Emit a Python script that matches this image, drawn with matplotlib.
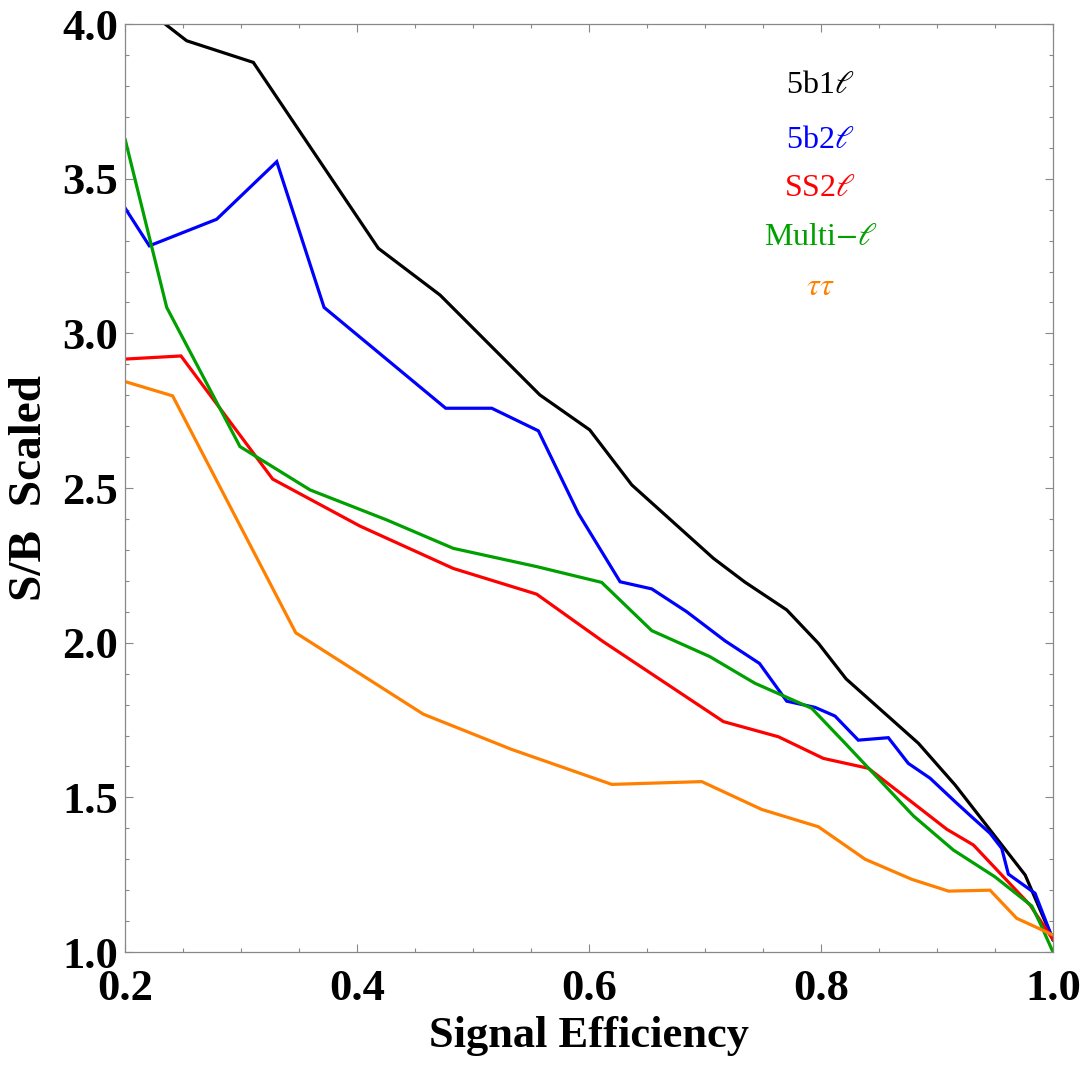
import numpy as np
import matplotlib.pyplot as plt
import matplotlib.transforms as mtrans
from matplotlib.ticker import MultipleLocator, FormatStrFormatter

plt.rcParams['font.family'] = ['Liberation Serif', 'DejaVu Serif']
plt.rcParams['mathtext.fontset'] = 'stix'

# series (signal efficiency, S/B scaled)
x_5b1l = [0.2, 0.2529, 0.3104, 0.4182, 0.4714, 0.5575, 0.6005, 0.6368, 0.7071,
          0.7343, 0.7704, 0.7977, 0.8216, 0.8839, 0.9156, 0.9760, 1.0]
y_5b1l = [4.10, 3.946, 3.876, 3.275, 3.124, 2.801, 2.688, 2.510, 2.273,
          2.196, 2.106, 1.998, 1.883, 1.675, 1.540, 1.249, 1.04]

x_5b2l = [0.2, 0.2207, 0.2788, 0.3306, 0.3714, 0.4763, 0.5160, 0.5562, 0.5907,
          0.6267, 0.6540, 0.6842, 0.7172, 0.7469, 0.7704, 0.7948, 0.8120,
          0.8321, 0.8580, 0.8752, 0.8940, 0.9156, 0.9299, 0.9457, 0.9558,
          0.9615, 0.9845, 1.0]
y_5b2l = [3.404, 3.283, 3.369, 3.555, 3.084, 2.758, 2.758, 2.685, 2.418,
          2.197, 2.174, 2.100, 2.006, 1.933, 1.811, 1.791, 1.763,
          1.685, 1.693, 1.610, 1.562, 1.486, 1.437, 1.384, 1.335,
          1.252, 1.190, 1.04]

x_ss2l = [0.2, 0.2480, 0.3271, 0.4024, 0.4829, 0.5547, 0.6123, 0.7158, 0.7632,
          0.8020, 0.8408, 0.9084, 0.9314, 0.9802, 1.0]
y_ss2l = [2.917, 2.927, 2.529, 2.377, 2.240, 2.157, 2.003, 1.745, 1.696,
          1.626, 1.594, 1.397, 1.346, 1.152, 1.04]

x_multi = [0.2, 0.2357, 0.2989, 0.3593, 0.4254, 0.4829, 0.5548, 0.6108, 0.6540,
           0.7041, 0.7429, 0.7919, 0.8207, 0.8797, 0.9140, 0.9500, 0.9817,
           0.9889, 1.0]
y_multi = [3.625, 3.084, 2.634, 2.494, 2.397, 2.305, 2.246, 2.195, 2.039,
           1.955, 1.869, 1.788, 1.675, 1.440, 1.330, 1.243, 1.149,
           1.093, 1.00]

x_tautau = [0.2, 0.2408, 0.3470, 0.4570, 0.5332, 0.6195, 0.6971, 0.7488, 0.7977,
            0.8380, 0.8783, 0.9099, 0.9457, 0.9687, 0.9845, 1.0]
y_tautau = [2.844, 2.798, 2.032, 1.769, 1.655, 1.542, 1.551, 1.461, 1.405,
            1.300, 1.235, 1.197, 1.200, 1.109, 1.082, 1.055]

labels = [r'5b1$\ell$', r'5b2$\ell$', r'SS2$\ell$', r'Multi$-\ell$', r'$\tau\tau$']
colors = ['black', '#0000ff', '#ff0000', '#00a000', '#ff8000']

fig = plt.figure(figsize=(10.84, 10.69), dpi=100)
ax = fig.add_axes([0.1156, 0.1094, 0.8558, 0.8681])

series = [(x_5b1l, y_5b1l), (x_5b2l, y_5b2l), (x_ss2l, y_ss2l),
          (x_multi, y_multi), (x_tautau, y_tautau)]
for (xs, ys), c in zip(series, colors):
    ax.plot(xs, ys, color=c, lw=2.3, solid_joinstyle='miter')

ax.set_xlim(0.2, 1.0)
ax.set_ylim(1.0, 4.0)

ax.xaxis.set_major_locator(MultipleLocator(0.2))
ax.xaxis.set_minor_locator(MultipleLocator(0.05))
ax.yaxis.set_major_locator(MultipleLocator(0.5))
ax.yaxis.set_minor_locator(MultipleLocator(0.1))
ax.xaxis.set_major_formatter(FormatStrFormatter('%.1f'))
ax.yaxis.set_major_formatter(FormatStrFormatter('%.1f'))

ax.tick_params(which='both', direction='in', top=True, right=True,
               color='#888888', width=0.8)
ax.tick_params(which='major', length=5.5, labelsize=32)
ax.tick_params(axis='x', which='major', pad=12)
ax.tick_params(axis='y', which='major', pad=5)
ax.tick_params(which='minor', length=3)
for lab in ax.get_xticklabels() + ax.get_yticklabels():
    lab.set_fontweight('bold')
for sp in ax.spines.values():
    sp.set_color('#888888')
    sp.set_linewidth(0.9)

# nudge the bottom y label up so it does not sit on the 0.2 label
fig.canvas.draw()
low = ax.yaxis.get_major_ticks()[0].label1
low.set_transform(low.get_transform() + mtrans.ScaledTranslation(0, 6 / 72, fig.dpi_scale_trans))

ax.set_xlabel('Signal Efficiency', fontsize=32, fontweight='bold', labelpad=5)
ax.set_ylabel('S/B  Scaled', fontsize=34, fontweight='bold', labelpad=8)

# legend as coloured text entries
leg_y = [0.934, 0.875, 0.823, 0.770, 0.716]
for lab, c, yy in zip(labels, colors, leg_y):
    ax.text(0.749, yy, lab, color=c, fontsize=23, ha='center', va='center',
            transform=ax.transAxes)

fig.savefig('out.png', dpi=100)
